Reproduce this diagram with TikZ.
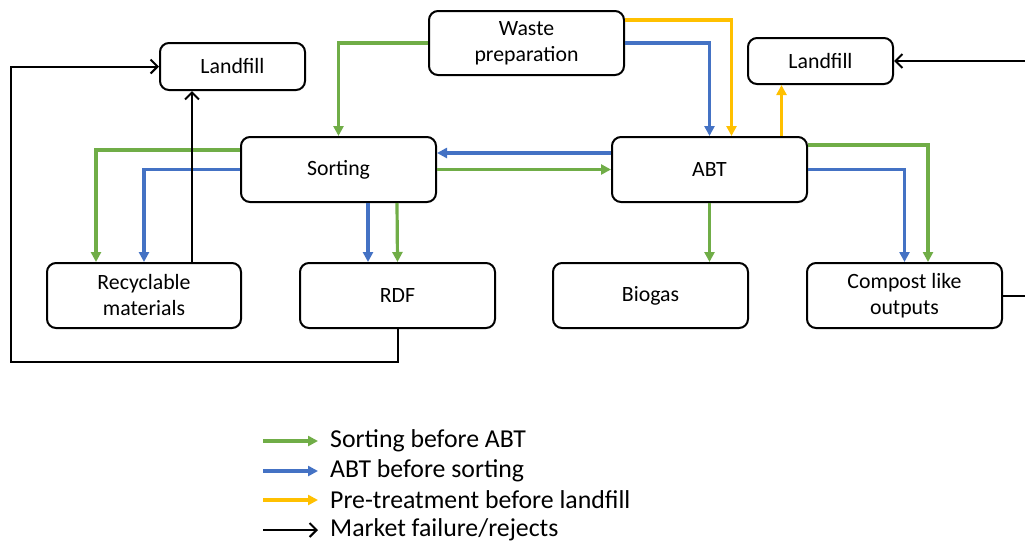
\documentclass[tikz,border=0pt]{standalone}
\usepackage{fontspec}
\setmainfont{Carlito}
\usetikzlibrary{arrows.meta}
\definecolor{cgreen}{HTML}{70AD47}
\definecolor{cblue}{HTML}{4472C4}
\definecolor{cyellow}{HTML}{FFC000}
\tikzset{
  box/.style={draw, line width=2pt, rounded corners=9pt, inner sep=0pt, align=center,
    minimum width=195pt, minimum height=65pt, font=\fontsize{21.8}{26}\selectfont},
  smallbox/.style={box, minimum width=145pt, minimum height=47pt},
  garrow/.style={draw=cgreen, line width=3.2pt, -{Triangle[length=10pt,width=10pt]}},
  barrow/.style={draw=cblue, line width=3.2pt, -{Triangle[length=10pt,width=10pt]}},
  yarrow/.style={draw=cyellow, line width=3.2pt, -{Triangle[length=10pt,width=10pt]}},
  karrow/.style={draw=black, line width=2pt, -{Straight Barb[length=7pt,width=14pt,line width=2pt]}},
  legtext/.style={anchor=west, inner sep=0pt, font=\fontsize{25.8}{28}\selectfont},
}
\begin{document}
\begin{tikzpicture}[x=1pt,y=-1pt]
\useasboundingbox (0,0) rectangle (1025,550);
\clip (0,0) rectangle (1025,550);
% boxes
\node[box, minimum height=64pt] (wp) at (526.5,43) {Waste\\preparation};
\node[smallbox] (lfl) at (232.5,66.5) {Landfill};
\node[smallbox, minimum height=46pt] (lfr) at (820.5,61) {Landfill};
\node[box] (sort) at (338.5,169.5) {Sorting};
\node[box] (abt) at (709.5,169.5) {ABT};
\node[box, minimum width=194pt] (rec) at (144,295.5) {Recyclable\\materials};
\node[box] (rdf) at (397.5,295.5) {RDF};
\node[box] (bio) at (650.5,295.5) {Biogas};
\node[box] (comp) at (904.5,295.5) {Compost like\\outputs};
% helper coordinates
\coordinate (r1) at ([xshift=48pt]rec.north);
\coordinate (s1) at ([xshift=29.5pt]sort.south);
\coordinate (a1) at ([xshift=72pt]abt.north);
\coordinate (c1) at (11,362);
\coordinate (o1) at (1040,295.5);
\coordinate (o2) at (1040,61);
% waste preparation
\draw[garrow] (wp.west) -| (sort.north);
\draw[barrow] (wp.east) -| (abt.north);
\draw[yarrow] ([yshift=23pt]wp.east) -| ([xshift=22pt]abt.north);
% sorting <-> ABT
\draw[barrow] ([yshift=16.5pt]abt.west) -- ([yshift=16.5pt]sort.east);
\draw[garrow] (sort.east) -- (abt.west);
% sorting to recyclables
\draw[garrow] ([yshift=19.5pt]sort.west) -| ([xshift=-48pt]rec.north);
\draw[barrow] (sort.west) -| (rec.north);
% sorting to RDF
\draw[barrow] (s1) -- (s1 |- rdf.north);
\draw[garrow] ([xshift=58.5pt]sort.south) -- (rdf.north);
% ABT outputs
\draw[garrow] (abt.south) -- (abt.south |- bio.north);
\draw[garrow] ([yshift=24.5pt]abt.east) -| ([xshift=23.5pt]comp.north);
\draw[barrow] (abt.east) -| (comp.north);
\draw[yarrow] (a1) -- (a1 |- lfr.south);
% rejects
\draw[karrow] (r1) -- (r1 |- lfl.south);
\draw[karrow] (rdf.south) |- (c1) |- (lfl.west);
\draw[karrow] (comp.east) -- (o1) -- (o2) -- (lfr.east);
% legend
\coordinate (lg1) at (263,441);
\coordinate (lg2) at (263,471);
\coordinate (lg3) at (263,500);
\coordinate (lg4) at (263,530);
\node[legtext] (lt1) at (330,441) {Sorting before ABT};
\node[legtext] (lt2) at (330,471) {ABT before sorting};
\node[legtext] (lt3) at (330,500) {Pre-treatment before landfill};
\node[legtext] (lt4) at (330,530) {Market failure/rejects};
\draw[garrow] (lg1) -- ++(55,0);
\draw[barrow] (lg2) -- ++(55,0);
\draw[yarrow] (lg3) -- ++(55,0);
\draw[karrow, line width=1.5pt] (lg4) -- ++(55,0);
\end{tikzpicture}
\end{document}
